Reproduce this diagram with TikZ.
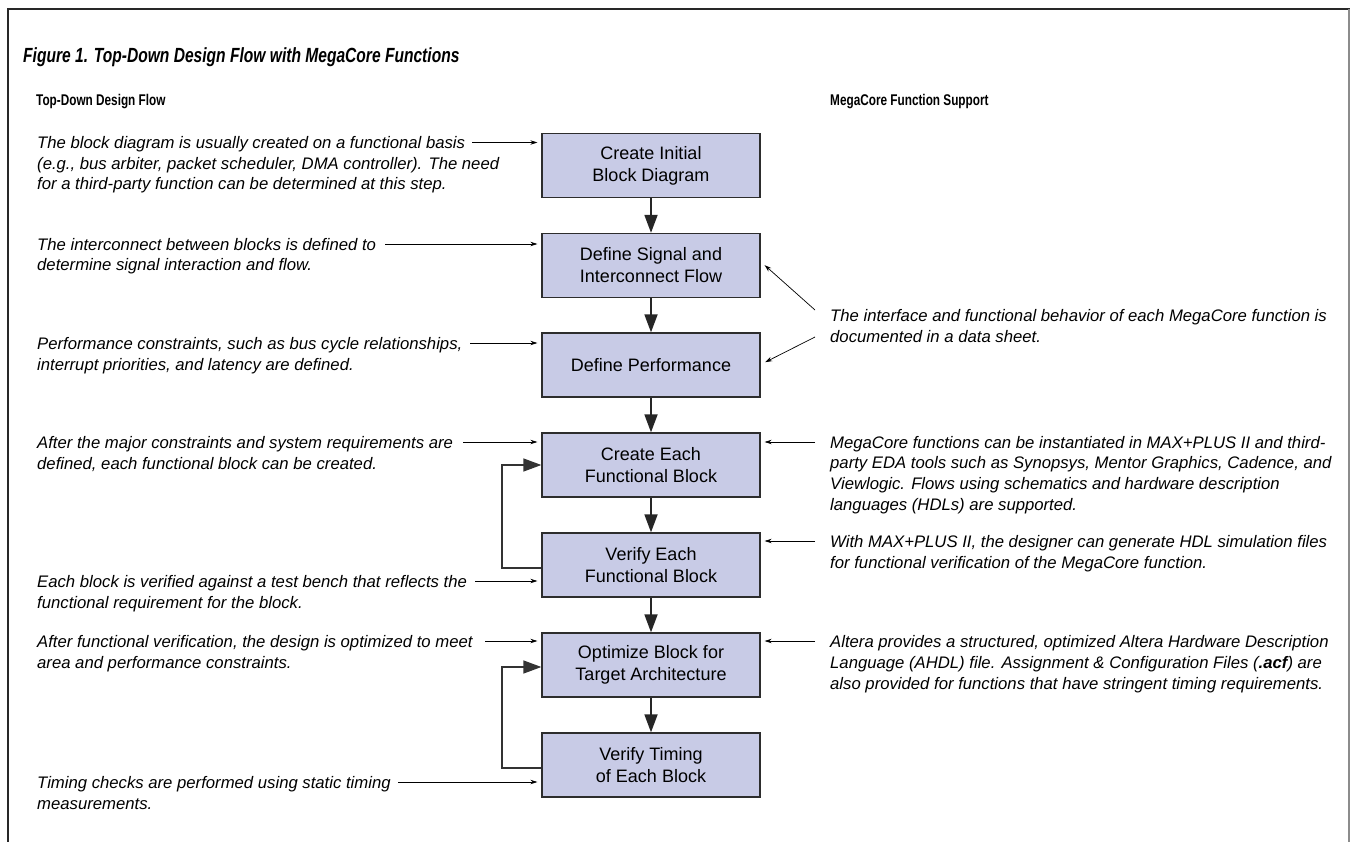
\documentclass[tikz,border=0pt]{standalone}
\usepackage{fontspec}
\setmainfont{Liberation Sans}
\newfontfamily\condensed[FakeStretch=0.76]{Liberation Sans}
\usetikzlibrary{arrows.meta}

\definecolor{boxfill}{RGB}{200,203,230}
\definecolor{boxline}{RGB}{45,45,45}
\definecolor{frameline}{RGB}{40,40,40}

\begin{document}
\begin{tikzpicture}[x=1pt,y=-1pt,
  flowbox/.style={draw=boxline, line width=1.3pt, fill=boxfill,
    minimum width=218pt, minimum height=64pt, align=center, inner sep=0pt,
    font=\fontsize{18}{22}\selectfont},
  % notes are placed by the baseline of their last line
  note/.style={anchor=base west, align=left, inner sep=0pt,
    font=\fontsize{16.7}{20.8}\selectfont\itshape},
  heading/.style={anchor=base west, inner sep=0pt,
    font=\condensed\fontsize{15.5}{18}\selectfont\bfseries},
  flowarrow/.style={line width=1.8pt, draw=black!85,
    -{Triangle[length=18pt,width=13pt]}},
  looparrow/.style={line width=1.4pt, draw=black!80,
    -{Triangle[length=18pt,width=13pt]}},
  notearrow/.style={line width=0.7pt, shorten >=4pt,
    -{Stealth[length=7pt,width=4.5pt]}},
]
\useasboundingbox (0,0) rectangle (1351,842);

% frame
\draw[frameline, line width=1.8pt] (8,842) -- (8,9) -- (1350,9);
\draw[black!45, line width=1.2pt] (1349,9) -- (1349,842);

% title and column headings
\node[anchor=base west, inner sep=0pt,
  font=\condensed\fontsize{20.5}{24}\selectfont\bfseries\itshape]
  (title) at (23,63) {Figure 1. Top-Down Design Flow with MegaCore Functions};
\node[heading] (hleft) at (36,105.5) {Top-Down Design Flow};
\node[heading] (hright) at (830,105.5) {MegaCore Function Support};

% flow boxes
\node[flowbox] (b1) at (651,165.5) {Create Initial\\Block Diagram};
\node[flowbox] (b2) at (651,265.5) {Define Signal and\\Interconnect Flow};
\node[flowbox] (b3) at (651,365) {Define Performance};
\node[flowbox] (b4) at (651,465) {Create Each\\Functional Block};
\node[flowbox] (b5) at (651,565) {Verify Each\\Functional Block};
\node[flowbox] (b6) at (651,665) {Optimize Block for\\Target Architecture};
\node[flowbox] (b7) at (651,765) {Verify Timing\\of Each Block};

\draw[flowarrow] (b1) -- (b2);
\draw[flowarrow] (b2) -- (b3);
\draw[flowarrow] (b3) -- (b4);
\draw[flowarrow] (b4) -- (b5);
\draw[flowarrow] (b5) -- (b6);
\draw[flowarrow] (b6) -- (b7);

% feedback loops
\coordinate (loopx) at (502,0);
\coordinate (out5) at ([yshift=-3pt]b5.west);
\coordinate (out7) at ([yshift=-3pt]b7.west);
\draw[looparrow] (out5) -- (out5 -| loopx) |- (b4.west);
\draw[looparrow] (out7) -- (out7 -| loopx) |- ([yshift=-2pt]b6.west);

% left-hand notes
\node[note] (n1) at (37,190) {The block diagram is usually created on a functional basis\\(e.g., bus arbiter, packet scheduler, DMA controller). The need\\for a third-party function can be determined at this step.};
\node[note] (n2) at (37,271) {The interconnect between blocks is defined to\\determine signal interaction and flow.};
\node[note] (n3) at (37,370) {Performance constraints, such as bus cycle relationships,\\interrupt priorities, and latency are defined.};
\node[note] (n4) at (37,469) {After the major constraints and system requirements are\\defined, each functional block can be created.};
\node[note] (n5) at (37,608) {Each block is verified against a test bench that reflects the\\functional requirement for the block.};
\node[note] (n6) at (37,668) {After functional verification, the design is optimized to meet\\area and performance constraints.};
\node[note] (n7) at (37,809) {Timing checks are performed using static timing\\measurements.};

\coordinate (s1) at (472,142.5);
\coordinate (s2) at (385,244);
\coordinate (s3) at (470,343);
\coordinate (s4) at (463,442);
\coordinate (s5) at (475,581);
\coordinate (s6) at (485,641);
\coordinate (s7) at (398,782);
\draw[notearrow] (s1) -- (s1 -| b1.west);
\draw[notearrow] (s2) -- (s2 -| b2.west);
\draw[notearrow] (s3) -- (s3 -| b3.west);
\draw[notearrow] (s4) -- (s4 -| b4.west);
\draw[notearrow] (s5) -- (s5 -| b5.west);
\draw[notearrow] (s6) -- (s6 -| b6.west);
\draw[notearrow] (s7) -- (s7 -| b7.west);

% right-hand notes
\node[note] (ra) at (830,342) {The interface and functional behavior of each MegaCore function is\\documented in a data sheet.};
\node[note] (rb) at (830,510.5) {MegaCore functions can be instantiated in MAX+PLUS II and third-\\party EDA tools such as Synopsys, Mentor Graphics, Cadence, and\\Viewlogic. Flows using schematics and hardware description\\languages (HDLs) are supported.};
\node[note] (rc) at (830,568) {With MAX+PLUS II, the designer can generate HDL simulation files\\for functional verification of the MegaCore function.};
\node[note] (rd) at (830,689) {Altera provides a structured, optimized Altera Hardware Description\\Language (AHDL) file. Assignment \& Configuration Files (\textbf{.acf}) are\\also provided for functions that have stringent timing requirements.};

\coordinate (ta1) at (815,310);
\coordinate (ta2) at (815,337);
\draw[notearrow] (ta1) -- ([xshift=1pt,yshift=3pt]b2.east);
\draw[notearrow] (ta2) -- ([xshift=1pt,yshift=1pt]b3.east);
\coordinate (tb) at (815,442);
\coordinate (tc) at (815,541);
\coordinate (td) at (815,641);
\draw[notearrow] (tb) -- (tb -| b4.east);
\draw[notearrow] (tc) -- (tc -| b5.east);
\draw[notearrow] (td) -- (td -| b6.east);
\end{tikzpicture}
\end{document}
